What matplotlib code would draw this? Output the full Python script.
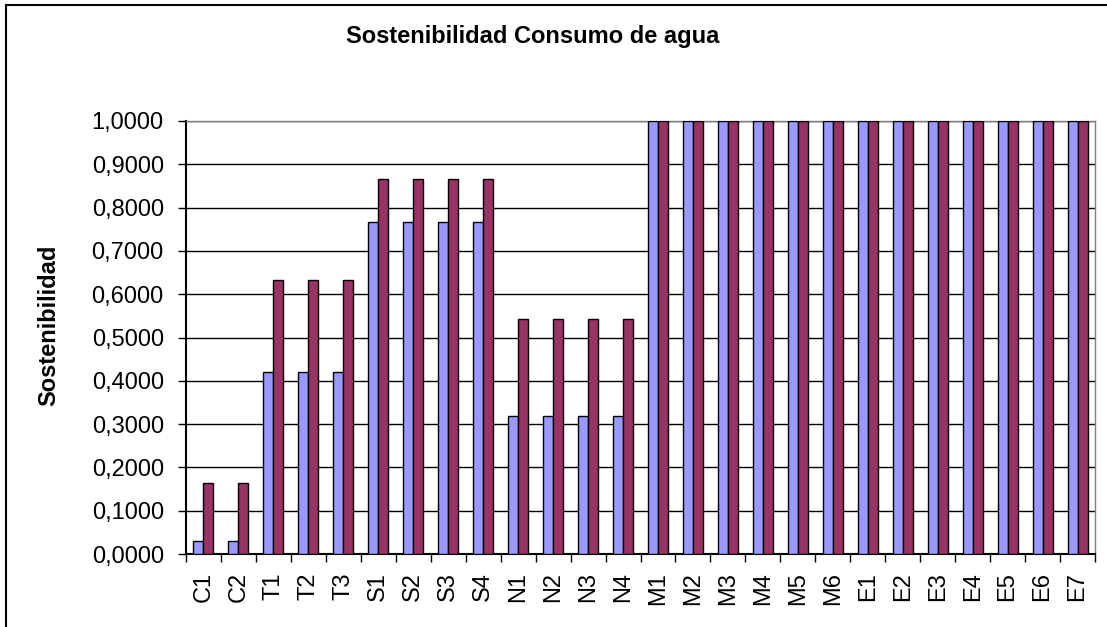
import numpy as np
import matplotlib.pyplot as plt
from matplotlib.patches import Rectangle

categorias = ['C1', 'C2', 'T1', 'T2', 'T3', 'S1', 'S2', 'S3', 'S4',
              'N1', 'N2', 'N3', 'N4', 'M1', 'M2', 'M3', 'M4', 'M5', 'M6',
              'E1', 'E2', 'E3', 'E4', 'E5', 'E6', 'E7']
serie1 = [0.030, 0.030, 0.421, 0.421, 0.421, 0.767, 0.767, 0.767, 0.767,
          0.319, 0.319, 0.319, 0.319, 1.0, 1.0, 1.0, 1.0, 1.0, 1.0,
          1.0, 1.0, 1.0, 1.0, 1.0, 1.0, 1.0]
serie2 = [0.164, 0.164, 0.633, 0.633, 0.633, 0.867, 0.867, 0.867, 0.867,
          0.542, 0.542, 0.542, 0.542, 1.0, 1.0, 1.0, 1.0, 1.0, 1.0,
          1.0, 1.0, 1.0, 1.0, 1.0, 1.0, 1.0]
yticks = np.arange(0, 1.01, 0.1)

W, H = 1107, 627
fs = 17
fig = plt.figure(figsize=(W / 100, H / 100), dpi=100)
ax = fig.add_axes([186 / W, 1 - 554 / H, (1095 - 186) / W, (554 - 121) / H])

x = np.arange(len(categorias))
bw = 0.286
ax.bar(x - bw / 2, serie1, bw, color='#9999FF', edgecolor='black', linewidth=1, zorder=3)
ax.bar(x + bw / 2, serie2, bw, color='#993366', edgecolor='black', linewidth=1, zorder=3)

ax.set_xlim(-0.5, len(categorias) - 0.5)
ax.set_ylim(0, 1.0)
ax.set_yticks(yticks)
ax.set_yticklabels([('%.4f' % v).replace('.', ',') for v in yticks],
                   fontsize=fs, family='Liberation Sans')
ax.yaxis.grid(True, color='black', linewidth=1, zorder=0)

ax.set_xticks(x)
ax.set_xticklabels(categorias, rotation=90, fontsize=fs, family='Liberation Sans')
ax.set_xticks(np.arange(-0.5, len(categorias)), minor=True)
ax.tick_params(axis='x', which='major', length=0, pad=13)
ax.tick_params(axis='x', which='minor', length=6, width=1, direction='out')
ax.tick_params(axis='y', length=6, width=1, direction='out', pad=10)

for s in ['left', 'bottom']:
    ax.spines[s].set_color('black')
    ax.spines[s].set_linewidth(1.5)
for s in ['top', 'right']:
    ax.spines[s].set_color('#808080')
    ax.spines[s].set_linewidth(1)

ax.set_ylabel('Sostenibilidad', fontsize=fs, fontweight='bold', family='Liberation Sans')
ax.yaxis.set_label_coords(-0.138, 0.527)
fig.text(533 / W, 1 - 37 / H, 'Sostenibilidad Consumo de agua', ha='center', va='center',
         fontsize=fs, fontweight='bold', family='Liberation Sans')

fig.patches.append(Rectangle((6 / W, -0.1), 1.2, 1 - 5 / H + 0.1, transform=fig.transFigure,
                             fill=False, edgecolor='black', linewidth=1.5))

fig.savefig('out.png', dpi=100)
